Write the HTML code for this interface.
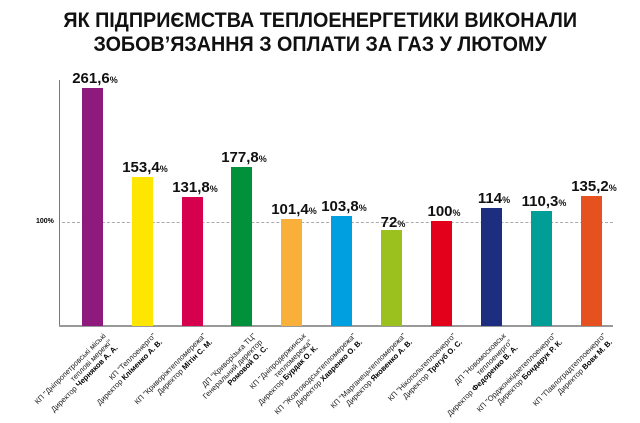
<!DOCTYPE html>
<html><head><meta charset="utf-8"><style>
body{margin:0;width:640px;height:421px;background:#fff;overflow:hidden;position:relative;font-family:"Liberation Sans",sans-serif}
.t{position:absolute;left:0;width:640px;text-align:center;font-weight:bold;font-size:21px;color:#111;white-space:nowrap}
.t span{display:inline-block;transform:scaleX(0.94)}
.bar{position:absolute;width:21px;bottom:95px}
.v{position:absolute;font-weight:bold;font-size:15px;color:#111;white-space:nowrap;transform:translateX(-50%)}
.v small{font-size:9px}
.lab{position:absolute;font-size:7.6px;line-height:8.5px;color:#222;text-align:right;white-space:nowrap;transform-origin:100% 0;transform:translateX(-100%) rotate(-45deg)}
.lab b{color:#000}
</style></head><body>
<div class="t" style="top:9px"><span>ЯК ПІДПРИЄМСТВА ТЕПЛОЕНЕРГЕТИКИ ВИКОНАЛИ</span></div>
<div class="t" style="top:33px"><span>ЗОБОВ’ЯЗАННЯ З ОПЛАТИ ЗА ГАЗ У ЛЮТОМУ</span></div>
<div style="position:absolute;left:59px;top:80px;width:1px;height:246px;background:#777"></div>
<div style="position:absolute;left:59px;top:325px;width:554px;height:2px;background:#999"></div>
<div style="position:absolute;left:62px;top:222px;width:551px;border-top:1px dashed #aaa"></div>
<div style="position:absolute;left:36px;top:218px;font-size:7px;font-weight:bold">100%</div>

<div class="bar" style="left:82px;top:88px;background:#8e1a7d"></div>
<div class="bar" style="left:132px;top:177px;background:#ffe600"></div>
<div class="bar" style="left:182px;top:197px;background:#d6004f"></div>
<div class="bar" style="left:231px;top:167px;background:#00913a"></div>
<div class="bar" style="left:281px;top:219px;background:#f8b03a"></div>
<div class="bar" style="left:331px;top:216px;background:#009fe0"></div>
<div class="bar" style="left:381px;top:230px;background:#9bc11f"></div>
<div class="bar" style="left:431px;top:221px;background:#e2001a"></div>
<div class="bar" style="left:481px;top:208px;background:#1d2d80"></div>
<div class="bar" style="left:531px;top:211px;background:#009e96"></div>
<div class="bar" style="left:581px;top:196px;background:#e6521f"></div>

<div class="v" style="left:95px;top:70px">261,6<small>%</small></div>
<div class="v" style="left:145px;top:159px">153,4<small>%</small></div>
<div class="v" style="left:195px;top:179px">131,8<small>%</small></div>
<div class="v" style="left:244px;top:149px">177,8<small>%</small></div>
<div class="v" style="left:294px;top:201px">101,4<small>%</small></div>
<div class="v" style="left:344px;top:198px">103,8<small>%</small></div>
<div class="v" style="left:393px;top:214px">72<small>%</small></div>
<div class="v" style="left:444px;top:203px">100<small>%</small></div>
<div class="v" style="left:494px;top:190px">114<small>%</small></div>
<div class="v" style="left:544px;top:193px">110,3<small>%</small></div>
<div class="v" style="left:594px;top:178px">135,2<small>%</small></div>

<div class="lab" style="left:102px;top:332px">КП "Дніпропетровські міські<br>теплові мережі"<br>Директор <b>Черняков А. А.</b></div>
<div class="lab" style="left:152px;top:332px">КП "Теплоенерго"<br>Директор <b>Кліменко А. В.</b></div>
<div class="lab" style="left:202px;top:332px">КП "Криворіжтепломережа"<br>Директор <b>Мітін С. М.</b></div>
<div class="lab" style="left:252px;top:332px">ДП "Криворізька ТЦ"<br>Генеральний директор<br><b>Ромовой О. С.</b></div>
<div class="lab" style="left:302px;top:332px">КП "Дніпродержинськ<br>тепломережа"<br>Директор <b>Бурдак О. К.</b></div>
<div class="lab" style="left:352px;top:332px">КП "Жовтоводськтепломережа"<br>Директор <b>Хавренко О. В.</b></div>
<div class="lab" style="left:402px;top:332px">КП "Марганецьтепломережа"<br>Директор <b>Яковенко А. В.</b></div>
<div class="lab" style="left:452px;top:332px">КП "Нікопольтеплоенерго"<br>Директор <b>Трегуб О. С.</b></div>
<div class="lab" style="left:502px;top:332px">ДП "Новомосковськ<br>теплоенерго"<br>Директор <b>Федоренко В. А.</b></div>
<div class="lab" style="left:552px;top:332px">КП "Орджонікідзетеплоенерго"<br>Директор <b>Бондарук Р. К.</b></div>
<div class="lab" style="left:602px;top:332px">КП "Павлоградтеплоенерго"<br>Директор <b>Вовк М. В.</b></div>
</body></html>
